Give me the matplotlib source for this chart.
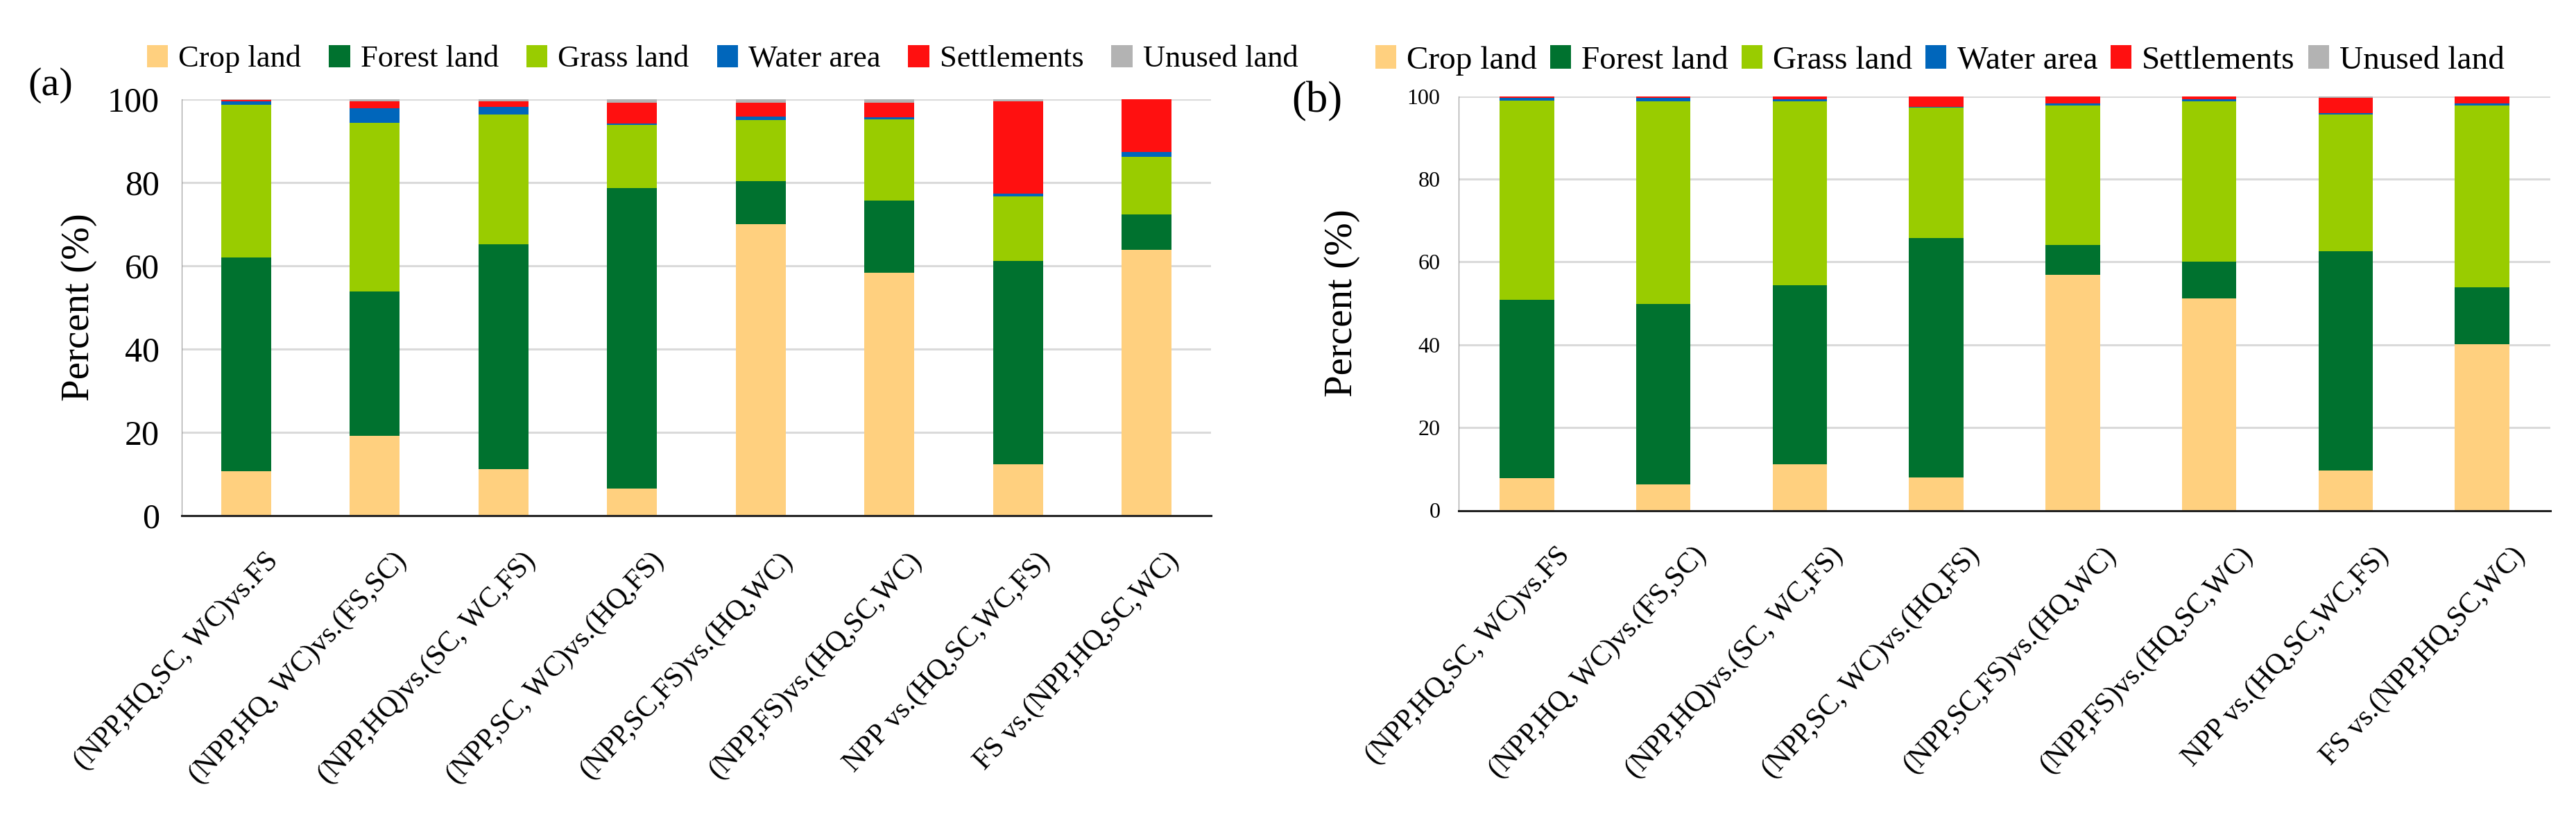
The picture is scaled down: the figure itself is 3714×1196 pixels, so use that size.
import matplotlib
matplotlib.use("Agg")
import matplotlib.pyplot as plt
from matplotlib.transforms import ScaledTranslation
import numpy as np

plt.rcParams['font.family'] = ['Liberation Serif', 'DejaVu Serif']

groups = ["(NPP,HQ,SC, WC)vs.FS", "(NPP,HQ, WC)vs.(FS,SC)", "(NPP,HQ)vs.(SC, WC,FS)",
          "(NPP,SC, WC)vs.(HQ,FS)", "(NPP,SC,FS)vs.(HQ,WC)", "(NPP,FS)vs.(HQ,SC,WC)",
          "NPP vs.(HQ,SC,WC,FS)", "FS vs.(NPP,HQ,SC,WC)"]
classes = ["Crop land", "Forest land", "Grass land", "Water area", "Settlements", "Unused land"]
colors = ["#FFD07F", "#00722F", "#99CC00", "#0066BB", "#FF1010", "#B3B3B3"]

# panel (a)
crop_a = [10.7, 19.1, 11.2, 6.5, 70.0, 58.3, 12.3, 63.8]
forest_a = [51.3, 34.8, 53.9, 72.2, 10.3, 17.3, 48.8, 8.6]
grass_a = [36.7, 40.4, 31.3, 15.1, 14.7, 19.5, 15.5, 13.7]
water_a = [0.8, 3.5, 1.8, 0.3, 0.9, 0.5, 0.7, 1.2]
settle_a = [0.4, 1.7, 1.3, 5.1, 3.3, 3.6, 22.2, 12.7]
unused_a = [0.1, 0.5, 0.5, 0.8, 0.8, 0.8, 0.5, 0.0]

# panel (b)
crop_b = [7.8, 6.2, 11.1, 8.0, 56.9, 51.2, 9.6, 40.2]
forest_b = [43.0, 43.6, 43.3, 57.8, 7.1, 8.9, 53.0, 13.7]
grass_b = [48.1, 48.9, 44.3, 31.4, 33.8, 38.6, 33.0, 43.9]
water_b = [0.7, 0.9, 0.5, 0.2, 0.4, 0.5, 0.3, 0.4]
settle_b = [0.4, 0.3, 0.7, 2.5, 1.7, 0.7, 3.7, 1.7]
unused_b = [0.1, 0.3, 0.1, 0.1, 0.1, 0.1, 0.4, 0.1]

W, H = 3714, 1196
fig = plt.figure(figsize=(W / 100, H / 100), dpi=100)


def draw_panel(ax, series, width, tick_size, label_size, xtick_size, dx, ypad, xpad):
    x = np.arange(len(groups))
    bottom = np.zeros(len(groups))
    handles = []
    for vals, name, col in zip(series, classes, colors):
        b = ax.bar(x, vals, width, bottom=bottom, color=col, label=name, zorder=2)
        handles.append(b)
        bottom += np.array(vals)
    ax.set_xlim(-0.5, len(groups) - 0.5)
    ax.set_ylim(0, 100)
    ax.set_yticks([0, 20, 40, 60, 80, 100])
    ax.yaxis.grid(True, color="#DADADA", linewidth=2.2, zorder=0)
    ax.set_axisbelow(True)
    for s in ["top", "right"]:
        ax.spines[s].set_visible(False)
    ax.spines["left"].set_color("#9A9A9A")
    ax.spines["left"].set_linewidth(0.8)
    ax.spines["bottom"].set_color("#222222")
    ax.spines["bottom"].set_linewidth(2.2)
    ax.tick_params(axis="both", length=0)
    ax.tick_params(axis="y", labelsize=tick_size, pad=ypad)
    ax.tick_params(axis="x", pad=xpad)
    ax.set_xticks(x)
    ax.set_xticklabels(groups, rotation=47, ha="right", rotation_mode="anchor",
                       fontsize=xtick_size)
    off = ScaledTranslation(dx / 100, 0, fig.dpi_scale_trans)
    for lab in ax.get_xticklabels():
        lab.set_transform(lab.get_transform() + off)
    ax.set_ylabel("Percent (%)", fontsize=label_size)
    return handles


ax1 = fig.add_axes([262 / W, 1 - 743 / H, 1484 / W, 600 / H])
h1 = draw_panel(ax1, [crop_a, forest_a, grass_a, water_a, settle_a, unused_a],
                0.39, 36, 41, 30, 26, 23, 33)
ax1.yaxis.set_label_coords(-0.082, 0.5)

ax2 = fig.add_axes([2103 / W, 1 - 735.5 / H, 1574 / W, 597 / H])
h2 = draw_panel(ax2, [crop_b, forest_b, grass_b, water_b, settle_b, unused_b],
                0.40, 23, 41, 30, 42, 19, 33)
ax2.yaxis.set_label_coords(-0.09, 0.5)

fig.text(73 / W, 1 - 123 / H, "(a)", fontsize=42, ha="center", va="center")
fig.text(1899 / W, 1 - 146 / H, "(b)", fontsize=45, ha="center", va="center")

fig.legend(h1, classes, loc="center left", bbox_to_anchor=(212 / W, 1 - 85 / H),
           ncol=6, frameon=False, fontsize=32, handlelength=0.68, handleheight=0.73,
           handletextpad=0.34, columnspacing=0.9, borderpad=0, borderaxespad=0)
fig.legend(h2, classes, loc="center left", bbox_to_anchor=(1983 / W, 1 - 87 / H),
           ncol=6, frameon=False, fontsize=34, handlelength=0.64, handleheight=0.7,
           handletextpad=0.32, columnspacing=0.4, borderpad=0, borderaxespad=0)

fig.savefig("out.png", dpi=100, facecolor="white")
